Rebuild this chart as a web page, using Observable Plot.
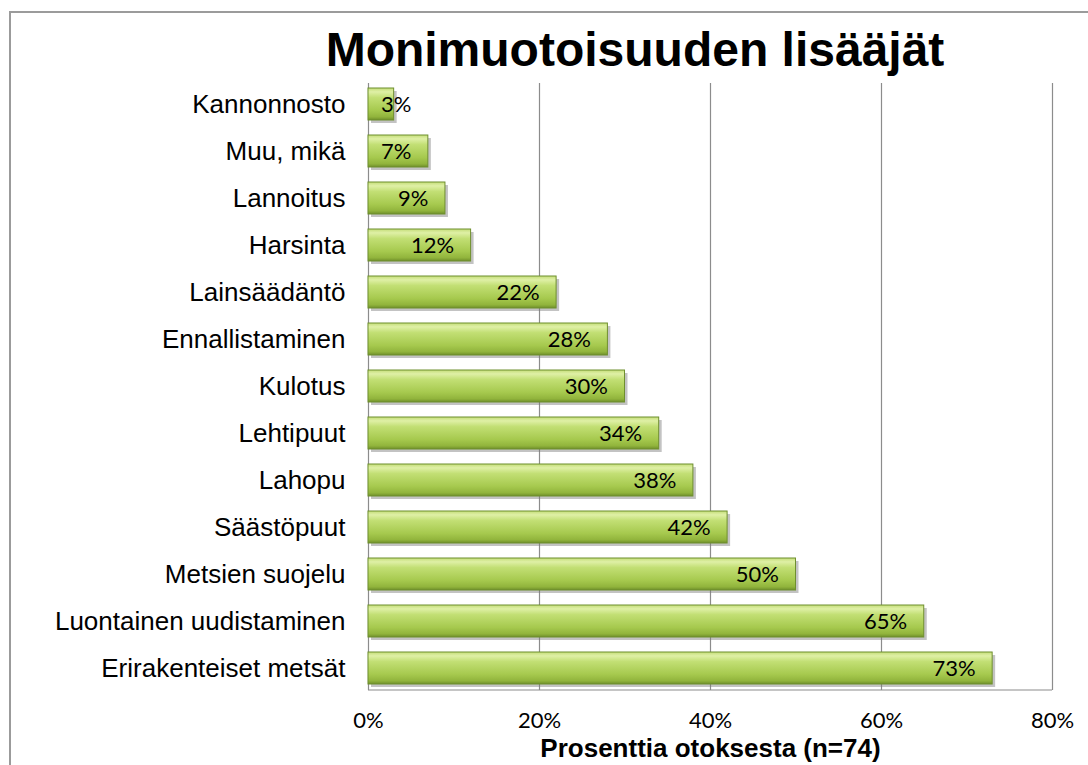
<!DOCTYPE html>
<html>
<head>
<meta charset="utf-8">
<script src="https://cdn.jsdelivr.net/npm/d3@7"></script>
<script src="https://cdn.jsdelivr.net/npm/@observablehq/plot@0.6"></script>
<style>
  html, body { margin: 0; padding: 0; background: #fff; }
  #wrap { position: relative; width: 1088px; height: 765px; overflow: hidden; background: #fff; }
  #frame { position: absolute; left: 9px; top: 11px; width: 1200px; height: 1000px; border: 2px solid #9b9b9b; box-sizing: border-box; }
  #title { position: relative; height: 83px; margin: 0; padding: 22px 0 0 182px; box-sizing: border-box; text-align: center;
           font: bold 48px "Liberation Sans", Arial, sans-serif; line-height: 56px; color: #000; }
  #chart { position: relative; }
  #chart svg [aria-label="y-axis tick label"] text { font-family: "Liberation Sans", Arial, sans-serif; font-size: 26px; fill: #000; }
  #chart svg [aria-label="x-axis tick label"] text { font-family: Lato, "Open Sans", sans-serif; font-size: 22px; fill: #000; }
</style>
</head>
<body>
<div id="wrap">
  <div id="frame"></div>
  <div id="title"></div>
  <div id="chart"></div>
</div>
<script>
const titleText = "Monimuotoisuuden lisääjät";
const xLabel = "Prosenttia otoksesta (n=74)";
const categories = ["Kannonnosto", "Muu, mikä", "Lannoitus", "Harsinta", "Lainsäädäntö", "Ennallistaminen", "Kulotus", "Lehtipuut", "Lahopu", "Säästöpuut", "Metsien suojelu", "Luontainen uudistaminen", "Erirakenteiset metsät"];
const values = [3, 7, 9, 12, 22, 28, 30, 34, 38, 42, 50, 65, 73];
const xTicks = [0, 20, 40, 60, 80];

const data = categories.map((c, i) => ({category: c, value: values[i]}));
document.getElementById("title").textContent = titleText;

// baseline along the bottom of the plot frame
const baseline = (index, scales, values, dim) => {
  const y = dim.height - dim.marginBottom;
  const g = d3.create("svg:line")
    .attr("x1", dim.marginLeft).attr("x2", dim.width - dim.marginRight)
    .attr("y1", y).attr("y2", y)
    .attr("stroke", "#8c8c8c").attr("stroke-width", 1.2);
  return g.node();
};

const svg = Plot.plot({
  width: 1088,
  height: 682,
  marginTop: 0,
  marginBottom: 75,
  marginLeft: 368,
  marginRight: 36,
  style: {background: "transparent", color: "#000"},
  x: {domain: [0, 80], ticks: xTicks},
  y: {domain: categories, paddingInner: 0.31, paddingOuter: 0.11},
  marks: [
    Plot.ruleX(xTicks, {stroke: "#8c8c8c", strokeWidth: 1.2}),
    baseline,
    Plot.barX(data, {x: "value", y: "category", fill: "#7a7a7a", fillOpacity: 0.45, dx: 3, dy: 3}),
    Plot.barX(data, {x: "value", y: "category", fill: "url(#barGrad)", stroke: "#6f8f2e", strokeWidth: 1}),
    Plot.text(data, {x: d => Math.max(d.value, 7), y: "category", text: d => d.value + "%", textAnchor: "end", dx: -17,
      fontFamily: "Lato, 'Open Sans', sans-serif", fontSize: 22, fill: "#000"}),
    Plot.axisY({tickSize: 0, tickPadding: 23, label: null, fontSize: 26, fontFamily: "Liberation Sans, Arial, sans-serif"}),
    Plot.axisX(xTicks, {tickSize: 0, tickPadding: 22, label: null, tickFormat: d => d + "%", fontSize: 22, fontFamily: "Lato, sans-serif"}),
    Plot.text([xLabel], {frameAnchor: "bottom", dy: 66, fontWeight: "bold", fontSize: 26, fontFamily: "Liberation Sans, Arial, sans-serif", fill: "#000"})
  ]
});

d3.select(svg).insert("defs", ":first-child").html(`
  <linearGradient id="barGrad" x1="0" y1="0" x2="0" y2="1">
    <stop offset="0" stop-color="#c4dd78"/>
    <stop offset="0.12" stop-color="#dff0a6"/>
    <stop offset="0.3" stop-color="#c2df74"/>
    <stop offset="0.7" stop-color="#a6c94e"/>
    <stop offset="0.9" stop-color="#91b43c"/>
    <stop offset="1" stop-color="#6f8f2a"/>
  </linearGradient>`);

document.getElementById("chart").appendChild(svg);
</script>
</body>
</html>
